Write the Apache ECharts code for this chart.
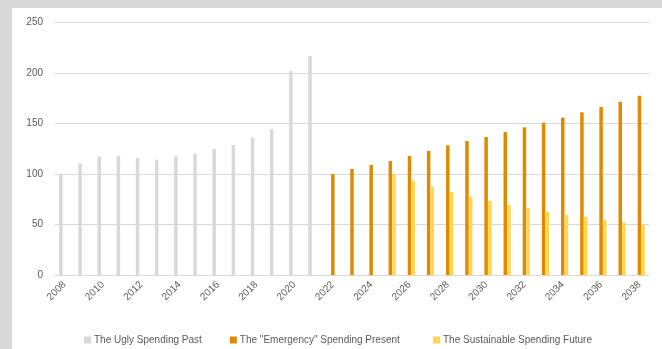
<!DOCTYPE html>
<html>
<head>
<meta charset="utf-8">
<script src="https://cdn.jsdelivr.net/npm/echarts@6/dist/echarts.min.js"></script>
<style>
  html, body { margin: 0; padding: 0; background: #ffffff; }
  #wrap { position: relative; width: 662px; height: 349px; overflow: hidden; background: #ffffff; }
  #frameTop { position: absolute; left: 0; top: 0; width: 662px; height: 8px; background: #d9d9d9; }
  #frameLeft { position: absolute; left: 0; top: 0; width: 12px; height: 349px; background: #d9d9d9; }
  #chart { position: absolute; left: 0; top: 0; width: 662px; height: 349px; }
</style>
</head>
<body>
<div id="wrap">
  <div id="frameTop"></div>
  <div id="frameLeft"></div>
  <div id="chart"></div>
</div>
<script>
// Years on the category axis
const years = [];
for (let y = 2008; y <= 2038; y++) years.push(String(y));

// Past spending, 2008–2021
const pastSpending = [100, 110.6, 117.1, 117.8, 115.8, 114.2, 117.5, 120.1, 124.8, 128.7, 136, 144.6, 202, 216.8,
  null, null, null, null, null, null, null, null, null, null, null, null, null, null, null, null, null];

// "Emergency" spending path, 2022–2038
const emergencySpending = [null, null, null, null, null, null, null, null, null, null, null, null, null, null,
  100, 105, 109, 112.9, 117.8, 122.8, 128.4, 132.7, 136.6, 141.6, 146.2, 150.8, 155.8, 161.1, 166.3, 171.6, 177.5];

// Sustainable spending path, 2025–2038
const sustainableSpending = [null, null, null, null, null, null, null, null, null, null, null, null, null, null,
  null, null, null, 100, 93.4, 87.4, 82.2, 77.5, 73.3, 69.3, 66.3, 62.7, 59.7, 57.4, 54.5, 52.2, 49.8];

const seriesNames = ['The Ugly Spending Past', 'The "Emergency" Spending Present', 'The Sustainable Spending Future'];
const yTicks = { min: 0, max: 250, interval: 50 };

const textColor = '#595959';
const gridColor = '#d9d9d9';
const fontFamily = '"Liberation Sans", "DejaVu Sans", sans-serif';

const chart = echarts.init(document.getElementById('chart'), null, { renderer: 'canvas' });

const barCommon = { type: 'bar', barWidth: 3.5, barGap: '5%', animation: false };

// Legend entries share one style; the third one sits in its own group
const legendBase = {
  bottom: 4,
  padding: 0,
  itemWidth: 7,
  itemHeight: 7,
  itemGap: 28,
  icon: 'rect',
  textStyle: { color: textColor, fontSize: 10, fontFamily: fontFamily, padding: [0, 0, 0, -2] }
};

chart.setOption({
  backgroundColor: 'transparent',
  textStyle: { fontFamily: fontFamily },
  grid: { left: 55, right: 13, top: 22.5, bottom: 74, containLabel: false },
  legend: [
    Object.assign({ left: 84, data: [seriesNames[0], seriesNames[1]] }, legendBase),
    Object.assign({ left: 433, data: [seriesNames[2]] }, legendBase)
  ],
  xAxis: {
    type: 'category',
    data: years,
    axisLine: { show: true, lineStyle: { color: gridColor, width: 1 } },
    axisTick: { show: false },
    axisLabel: { interval: 1, rotate: 45, color: textColor, fontSize: 10, margin: 8, fontFamily: fontFamily }
  },
  yAxis: {
    type: 'value',
    min: yTicks.min,
    max: yTicks.max,
    interval: yTicks.interval,
    axisLine: { show: false },
    axisTick: { show: false },
    axisLabel: { color: textColor, fontSize: 10, margin: 12, fontFamily: fontFamily },
    splitLine: { lineStyle: { color: gridColor, width: 1 } }
  },
  series: [
    Object.assign({ name: seriesNames[0], data: pastSpending, itemStyle: { color: '#d9d9d9' } }, barCommon),
    Object.assign({ name: seriesNames[1], data: emergencySpending, itemStyle: { color: '#e08a00' } }, barCommon),
    Object.assign({ name: seriesNames[2], data: sustainableSpending, itemStyle: { color: '#ffd850' } }, barCommon)
  ]
});
</script>
</body>
</html>
